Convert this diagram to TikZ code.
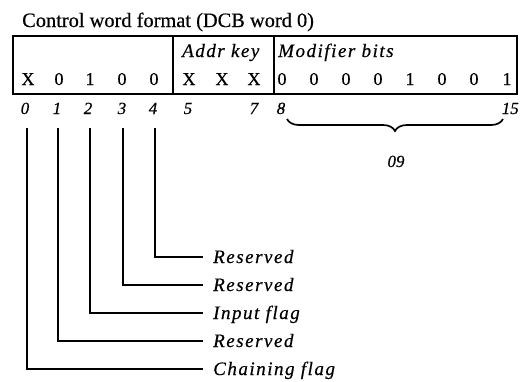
\documentclass[tikz,border=0pt]{standalone}
\usepackage{fontspec}
\setmainfont{Liberation Serif}[FakeBold=0.5]
\newfontfamily\spit{Liberation Serif}[LetterSpace=8,FakeBold=0.5]
\usetikzlibrary{decorations.pathreplacing}
\begin{document}
\begin{tikzpicture}[x=1pt,y=-1pt,
  cell/.style={draw, line width=2.1pt, minimum height=58pt, inner sep=0pt, anchor=north west},
  bit/.style={font=\fontsize{18}{18}\selectfont, anchor=base, inner sep=0pt},
  num/.style={font=\fontsize{17}{17}\selectfont\itshape, anchor=base, inner sep=0pt},
  head/.style={font=\fontsize{19}{19}\selectfont\spit\itshape, anchor=base west, inner sep=0pt},
  lab/.style={font=\fontsize{19}{19}\selectfont\spit\itshape, anchor=base west, inner sep=0pt},
  leader/.style={line width=1.7pt}]
\useasboundingbox (0,0) rectangle (524,381);
% title
\node[anchor=base west, inner sep=0pt, font=\fontsize{20.4}{20.4}\selectfont] (title) at (22,27) {Control word format (DCB word 0)};
% cells
\node[cell, minimum width=160pt] (cA) at (12,35) {};
\node[cell, minimum width=101pt] (cB) at (172,35) {};
\node[cell, minimum width=243pt] (cC) at (273,35) {};
% headers
\node[head] (hB) at (182,57) {Addr key};
\node[head] (hC) at (278,57) {Modifier bits};
% bits
\foreach \x/\t [count=\i from 0] in {28/X,59/0,90/1,122/0,154/0,189/X,222/X,254/X,282/0,314/0,346/0,378/0,410/1,442/0,474/0,507/1}
  \node[bit] (b\i) at (\x,85) {\t};
% bit numbers
\foreach \x/\t in {25/0,57/1,88/2,122/3,153/4,188/5,254/7,281/8}
  \node[num] (n\t) at (\x,114) {\t};
\node[num, anchor=base east] (n15) at (519,114) {15};
% brace
\coordinate (br1) at (287,119);
\coordinate (br2) at (503,119);
\draw[line width=1.7pt, decorate, decoration={brace, mirror, amplitude=12pt}] (br1) -- (br2);
\node[num] (v09) at (396,167) {09};
% leaders
\foreach \x/\y/\k in {155/257/4,123/285/3,90/313/2,58/341/1,27/369/0} {
  \coordinate (s\k) at (\x,128);
  \coordinate (e\k) at (203,\y);
}
\node[lab] (l4) at (213,263) {Reserved};
\node[lab] (l3) at (213,291) {Reserved};
\node[lab] (l2) at (213,319) {Input flag};
\node[lab] (l1) at (213,347) {Reserved};
\node[lab] (l0) at (213,375) {Chaining flag};
\foreach \k in {0,...,4}
  \draw[leader] (s\k) |- (e\k);
\end{tikzpicture}
\end{document}
